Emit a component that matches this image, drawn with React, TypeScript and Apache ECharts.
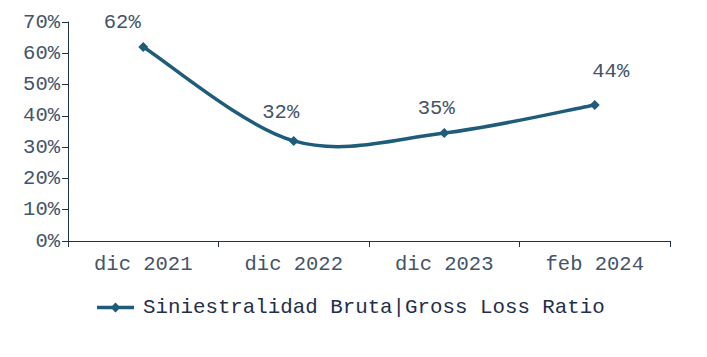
import React, { useEffect, useRef } from "react";
import * as echarts from "echarts";

const categories = ["dic 2021", "dic 2022", "dic 2023", "feb 2024"];
const lossRatio = [0.62, 0.32, 0.345, 0.435];
const seriesName = "Siniestralidad Bruta|Gross Loss Ratio";
const labelOffsets: [number, number][] = [[-21, -25], [-13, -28], [-8, -25], [16, -33]];

const FONT = "'Courier New', 'Liberation Mono', monospace";
const TEXT = "#44546A";
const LINE = "#1F5C7A";
const AXIS = "#1F3344";

export default function App() {
  const ref = useRef<HTMLDivElement>(null);
  useEffect(() => {
    if (!ref.current) return;
    const chart = echarts.init(ref.current, undefined, { renderer: "svg" });
    const n = lossRatio.length;
    chart.setOption({
      animation: false,
      grid: { left: 68, right: 37, top: 22, bottom: 116, containLabel: false },
      legend: {
        bottom: 39,
        left: 97,
        padding: 0,
        itemWidth: 37,
        itemHeight: 10,
        itemGap: 8,
        symbolKeepAspect: false,
        textStyle: { fontFamily: FONT, fontSize: 20.8, color: "#1F2F4A", padding: [0, 0, 0, 4] },
        data: [
          {
            name: seriesName,
            icon: "path://M0,3.25 H37 V6.75 H0 Z M18.5,0 L23.5,5 L18.5,10 L13.5,5 Z",
            itemStyle: { color: LINE },
          },
        ],
      },
      xAxis: {
        type: "category",
        data: categories,
        boundaryGap: true,
        axisLine: { lineStyle: { color: AXIS, width: 1 } },
        axisTick: { show: true, alignWithLabel: false, length: 6, lineStyle: { color: AXIS } },
        axisLabel: { fontFamily: FONT, fontSize: 20.5, color: TEXT, margin: 13 },
      },
      yAxis: {
        type: "value",
        min: 0,
        max: 0.7,
        interval: 0.1,
        axisLine: { show: true, lineStyle: { color: AXIS, width: 1 } },
        axisTick: { show: true, length: 6, lineStyle: { color: AXIS } },
        splitLine: { show: false },
        axisLabel: {
          fontFamily: FONT,
          fontSize: 20.5,
          color: TEXT,
          margin: 8,
          formatter: (v: number) => `${Math.round(v * 100)}%`,
        },
      },
      series: [
        {
          name: seriesName + "_curve",
          type: "custom",
          silent: true,
          z: 2,
          data: lossRatio.map((v, i) => [i, v]),
          renderItem: (params: any, api: any) => {
            const i = params.dataIndex;
            if (i >= n - 1) return null;
            const pt = (k: number) => api.coord([Math.max(0, Math.min(n - 1, k)), lossRatio[Math.max(0, Math.min(n - 1, k))]]);
            const p0 = pt(i - 1);
            const p1 = pt(i);
            const p2 = pt(i + 1);
            const p3 = pt(i + 2);
            return {
              type: "bezierCurve",
              shape: {
                x1: p1[0],
                y1: p1[1],
                cpx1: p1[0] + (p2[0] - p0[0]) / 6,
                cpy1: p1[1] + (p2[1] - p0[1]) / 6,
                cpx2: p2[0] - (p3[0] - p1[0]) / 6,
                cpy2: p2[1] - (p3[1] - p1[1]) / 6,
                x2: p2[0],
                y2: p2[1],
              },
              style: { stroke: LINE, lineWidth: 3.5, fill: "none", lineCap: "round" },
            };
          },
        },
        {
          name: seriesName,
          type: "line",
          z: 3,
          symbol: "diamond",
          symbolSize: 10,
          lineStyle: { width: 0, opacity: 0 },
          itemStyle: { color: LINE },
          data: lossRatio.map((v, i) => ({
            value: v,
            label: { offset: labelOffsets[i] },
          })),
          label: {
            show: true,
            position: "inside",
            fontFamily: FONT,
            fontSize: 20.5,
            color: TEXT,
            formatter: (p: any) => `${Math.round(p.value * 100)}%`,
          },
        },
      ],
    });
    return () => chart.dispose();
  }, []);
  return <div ref={ref} style={{ width: 707, height: 357, position: "absolute", left: 0, top: 0, background: "#fff" }} />;
}
